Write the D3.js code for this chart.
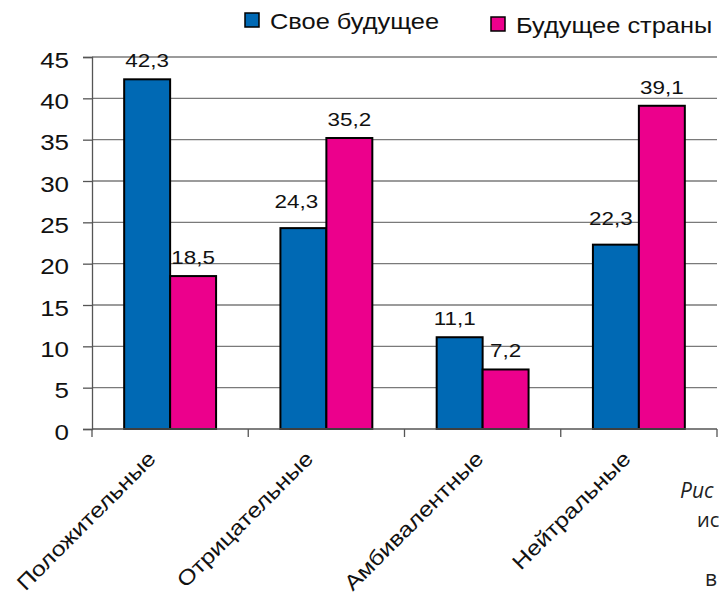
<!DOCTYPE html>
<html><head><meta charset="utf-8">
<script src="https://cdn.jsdelivr.net/npm/d3@7"></script>
<style>body{margin:0;background:#fff}svg{display:block}</style>
</head><body>
<svg id="c" width="719" height="595"></svg>
<script>
const categories = ["Положительные","Отрицательные","Амбивалентные","Нейтральные"];
const seriesNames = ["Свое будущее","Будущее страны"];
const ownFuture = [42.3, 24.3, 11.1, 22.3];
const countryFuture = [18.5, 35.2, 7.2, 39.1];
const yTicks = [0,5,10,15,20,25,30,35,40,45];
const colors = ["#0069B4","#EC008C"];

const svg = d3.select("#c");
const m = {l:92, r:717, t:57, b:429};
const SX = 1.18; // horizontal stretch of the original font
const font = "'Liberation Sans', Arial, sans-serif";
const x = d3.scaleBand().domain(categories).range([m.l, m.r]).paddingInner(0).paddingOuter(0);
const x1 = d3.scaleBand().domain(seriesNames).range([0, x.bandwidth()]).paddingInner(0).paddingOuter(0.7);
const y = d3.scaleLinear().domain([0,45]).range([m.b, m.t]);

function stext(parent, tx, ty, str, size, anchor, extra, sx) {
  return parent.append("text")
    .attr("transform", `translate(${tx},${ty})${extra||""} scale(${sx||SX},1)`)
    .attr("text-anchor", anchor).attr("font-family", font).attr("font-size", size)
    .attr("fill", "#111").text(str);
}

// gridlines
svg.append("g").selectAll("line").data(yTicks.filter(d=>d>0)).join("line")
  .attr("x1", m.l).attr("x2", m.r).attr("y1", d=>y(d)).attr("y2", d=>y(d))
  .attr("stroke","#7a7a7a").attr("stroke-width",1.3);

// y axis
const ya = svg.append("g").attr("transform",`translate(${m.l},0)`)
  .call(d3.axisLeft(y).tickValues(yTicks).tickSize(9).tickFormat(""));
ya.select(".domain").attr("stroke","#555").attr("stroke-width",1.3);
ya.selectAll(".tick line").attr("stroke","#555").attr("stroke-width",1.3);
yTicks.forEach(t => stext(svg, m.l - 23, y(t) + 10.5, String(t), 22, "end"));

// bars
const nudge = {"Свое будущее|Отрицательные":[-7,-8], "Свое будущее|Нейтральные":[-5,-8], "Свое будущее|Амбивалентные":[-5,0]};
const g = svg.append("g");
categories.forEach((c,i)=>{
  [ownFuture[i], countryFuture[i]].forEach((v,j)=>{
    const s = seriesNames[j];
    const bx = x(c)+x1(s);
    g.append("rect").attr("x",bx).attr("y",y(v)).attr("width",x1.bandwidth()).attr("height",y(0)-y(v))
      .attr("fill",colors[j]).attr("stroke","#000").attr("stroke-width",2);
    const n = nudge[s+"|"+c] || [0,0];
    stext(g, bx+x1.bandwidth()/2+n[0], y(v)-12+n[1], String(v).replace(".",","), 19, "middle");
  });
});

// x axis
const xa = svg.append("g").attr("transform",`translate(0,${m.b})`);
xa.append("line").attr("x1",m.l).attr("x2",m.r).attr("stroke","#555").attr("stroke-width",1.3);
const bounds = [m.l, ...categories.map(c=>x(c)+x.bandwidth())];
xa.selectAll("line.t").data(bounds).join("line").attr("class","t")
  .attr("x1",d=>d).attr("x2",d=>d).attr("y1",0).attr("y2",8).attr("stroke","#555").attr("stroke-width",1.3);
const labelShift = [-13, -12, 2, -7];
categories.forEach((c,i) => stext(xa, x(c)+x.bandwidth()/2+labelShift[i], 31, c, 21, "end", " rotate(-45)"));

// legend
const leg = [{x:245, y:13, t:seriesNames[0], c:colors[0]},{x:491, y:17, t:seriesNames[1], c:colors[1]}];
leg.forEach(l=>{
  svg.append("rect").attr("x",l.x).attr("y",l.y).attr("width",14).attr("height",14)
    .attr("fill",l.c).attr("stroke","#000").attr("stroke-width",1.5);
  stext(svg, l.x+25, l.y+16, l.t, 22, "start", "", 1.155);
});

// caption fragments (cut by the right edge in the source)
const cf = "'Open Sans', 'Noto Sans', sans-serif";
svg.append("text").attr("x",680).attr("y",498).attr("font-family",cf).attr("font-style","italic").attr("font-size",21).attr("fill","#222").text("Рис");
svg.append("text").attr("x",697).attr("y",527).attr("font-family",cf).attr("font-size",20).attr("fill","#222").text("ис");
svg.append("text").attr("x",705).attr("y",586).attr("font-family",cf).attr("font-size",21).attr("fill","#222").text("в");
</script>
</body></html>
